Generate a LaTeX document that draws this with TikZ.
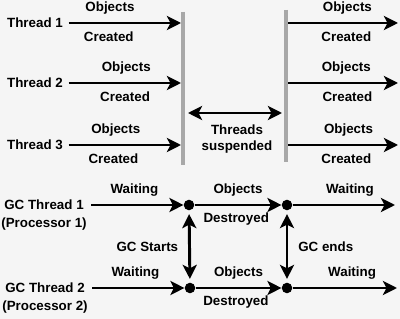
\documentclass[tikz,border=0pt]{standalone}
\usepackage{fontspec}
\setmainfont{Liberation Sans}
\usepackage{xcolor}
\usetikzlibrary{arrows.meta, positioning}
\definecolor{paper}{HTML}{F5F5F5}
\definecolor{bargray}{HTML}{A8A8A8}

\begin{document}
\begin{tikzpicture}[
    x=0.025cm, y=-0.025cm,
    lbl/.style={font=\bfseries\fontsize{9.5}{12}\selectfont, inner sep=1pt},
    up/.style={lbl, yshift=10.5pt},
    down/.style={lbl, yshift=-10pt},
    arrow/.style={line width=2.1pt, -{Stealth[length=10pt, width=10pt, inset=2.5pt]}},
    dblarrow/.style={line width=2.1pt, {Stealth[length=10pt, width=10pt, inset=2.5pt]}-{Stealth[length=10pt, width=10pt, inset=2.5pt]}},
    bar/.style={line width=2.4pt, draw=bargray},
    dot/.style={circle, fill=black, inner sep=0pt, minimum size=7.5pt}
]

\fill[paper] (0,0) rectangle (400,319);
\useasboundingbox (0,0) rectangle (400,319);

% application threads
\node (th1) [lbl] at (35,23) {Thread 1};
\node (th2) [lbl] at (35,83) {Thread 2};
\node (th3) [lbl] at (35,145) {Thread 3};

\coordinate (stop1) at (181,23);
\coordinate (stop2) at (181,83);
\coordinate (stop3) at (181,145);
\coordinate (go1) at (288,23);
\coordinate (go2) at (288,83);
\coordinate (go3) at (288,145);
\coordinate (end1) at (398,23);
\coordinate (end2) at (398,83);
\coordinate (end3) at (398,145);

\coordinate (barAtop) at (183,12);
\coordinate (barAbot) at (183,165);
\coordinate (barBtop) at (286,10);
\coordinate (barBbot) at (286,162);
\draw [bar] (barAtop) -- (barAbot);
\draw [bar] (barBtop) -- (barBbot);

\draw [arrow, shorten <=3pt] (th1) -- (stop1) node[up, pos=0.39] {Objects} node[down, pos=0.38] {Created};
\draw [arrow, shorten <=3pt] (th2) -- (stop2) node[up, pos=0.53] {Objects} node[down, pos=0.52] {Created};
\draw [arrow, shorten <=3pt] (th3) -- (stop3) node[up, pos=0.44] {Objects} node[down, pos=0.42] {Created};

\draw [arrow] (go1) -- (end1) node[up, pos=0.54] {Objects} node[down, pos=0.53] {Created};
\draw [arrow] (go2) -- (end2) node[up, pos=0.53] {Objects} node[down, pos=0.54] {Created};
\draw [arrow] (go3) -- (end3) node[up, pos=0.55] {Objects} node[down, pos=0.53] {Created};

% pause
\coordinate (susL) at (188,113);
\coordinate (susR) at (282,113);
\draw [dblarrow] (susL) -- (susR);
\node (susp) [lbl, align=center] at (237,139) {Threads\\suspended};

% gc threads
\node (gc1) [lbl] at (44,205) {GC Thread 1};
\node (proc1) [lbl, below=3pt of gc1] {(Processor 1)};
\node (gc2) [lbl] at (45,288) {GC Thread 2};
\node (proc2) [lbl, below=3pt of gc2] {(Processor 2)};

\node (start1) [dot] at (189,205) {};
\node (stop1b) [dot] at (287,205) {};
\node (start2) [dot] at (190,288) {};
\node (stop2b) [dot] at (287,288) {};
\coordinate (idle1) at (395,205);
\coordinate (idle2) at (397,288);

\draw [arrow, shorten <=4pt] (gc1) -- (start1) node[up, midway] {Waiting};
\draw [arrow] (start1) -- (stop1b) node[up, midway] {Objects} node[down, pos=0.48] {Destroyed};
\draw [arrow] (stop1b) -- (idle1) node[up, pos=0.56] {Waiting};

\draw [arrow, shorten <=4pt] (gc2) -- (start2) node[up, midway] {Waiting};
\draw [arrow] (start2) -- (stop2b) node[up, midway] {Objects} node[down, pos=0.47] {Destroyed};
\draw [arrow] (stop2b) -- (idle2) node[up, pos=0.57] {Waiting};

\draw [dblarrow, shorten <=2.5pt, shorten >=2.5pt] (start1) -- (start2) node[lbl, midway, left=6pt] {GC Starts};
\draw [dblarrow, shorten <=2.5pt, shorten >=2.5pt] (stop1b) -- (stop2b) node[lbl, midway, right=6pt] {GC ends};

\end{tikzpicture}
\end{document}
